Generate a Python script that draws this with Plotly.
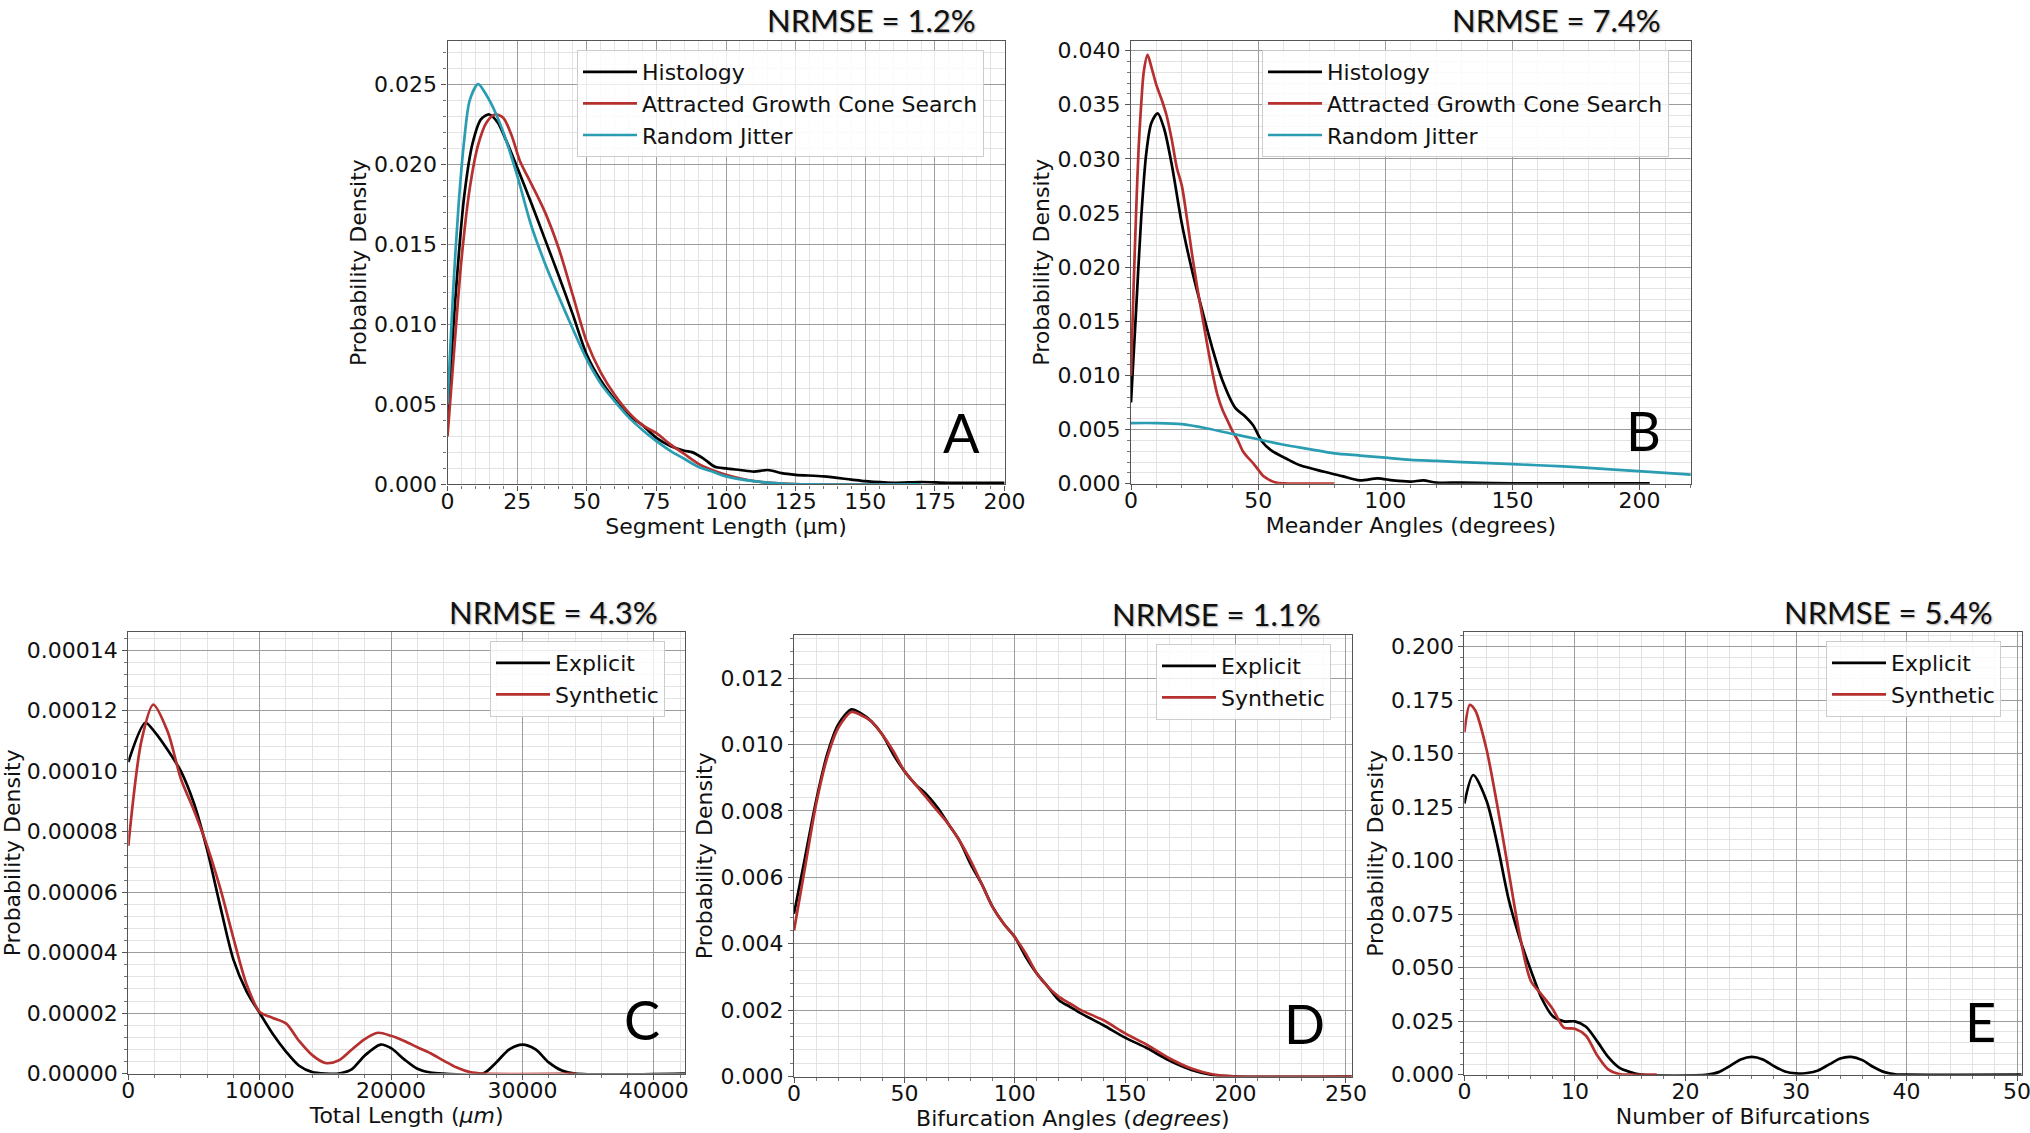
import plotly.graph_objects as go

# ---------------- Data ----------------
# Panel A: Segment Length
a_hist_x = [0, 3, 6, 9, 12, 15, 18, 21, 25, 30, 35, 40, 45, 50, 55, 60, 65, 70, 75, 80, 85, 88, 92, 96, 100, 105, 110, 115, 120, 125, 135, 145, 150, 160, 170, 180, 200]
a_hist_y = [0.0040, 0.0120, 0.0180, 0.0213, 0.0228, 0.0231, 0.0226, 0.0215, 0.0198, 0.0176, 0.0153, 0.0130, 0.0106, 0.0081, 0.0065, 0.0053, 0.0043, 0.0037, 0.0029, 0.0024, 0.0021, 0.0020, 0.0016, 0.0011, 0.0010, 0.0009, 0.0008, 0.0009, 0.0007, 0.0006, 0.0005, 0.0003, 0.0002, 0.0001, 0.00015, 0.0001, 0.0001]
a_agcs_x = [0, 2, 5, 8, 11, 14, 17, 20, 23, 26, 30, 35, 40, 45, 50, 55, 60, 65, 70, 75, 80, 85, 90, 95, 100, 110, 120, 130, 170]
a_agcs_y = [0.0030, 0.0075, 0.0140, 0.0185, 0.0212, 0.0226, 0.0231, 0.0229, 0.0218, 0.0202, 0.0188, 0.0170, 0.0147, 0.0118, 0.0089, 0.0070, 0.0056, 0.0045, 0.0037, 0.0032, 0.0025, 0.0019, 0.0013, 0.0009, 0.0006, 0.0002, 0.00005, 0.0, 0.0]
a_jit_x = [0, 2, 4, 6, 8, 11, 14, 17, 20, 25, 30, 35, 40, 45, 50, 55, 60, 65, 70, 75, 80, 85, 90, 95, 100, 110, 120, 130, 170]
a_jit_y = [0.0050, 0.0120, 0.0175, 0.0215, 0.0240, 0.0250, 0.0243, 0.0233, 0.0220, 0.0193, 0.0162, 0.0138, 0.0117, 0.0097, 0.0078, 0.0063, 0.0052, 0.0042, 0.0034, 0.0027, 0.0021, 0.0016, 0.0011, 0.0008, 0.0005, 0.0002, 0.00005, 0.0, 0.0]

# Panel B: Meander Angles
b_hist_x = [0, 2, 4, 6, 8, 10.5, 13, 16, 20, 24, 28, 32, 36, 41, 44.5, 48, 51.5, 55, 62, 66.5, 76, 83, 90, 97, 103, 110, 115, 120, 130, 150, 204]
b_hist_y = [0.0075, 0.0160, 0.0245, 0.0305, 0.0333, 0.0342, 0.0328, 0.0295, 0.0240, 0.0197, 0.0160, 0.0125, 0.0095, 0.0070, 0.0063, 0.0054, 0.0039, 0.0031, 0.0022, 0.0017, 0.0011, 0.0007, 0.0003, 0.0005, 0.0003, 0.0002, 0.0003, 0.0001, 0.0001, 0.00003, 0.00003]
b_agcs_x = [0, 1, 2, 3, 4, 5, 6.5, 8, 10, 12, 14, 16, 18, 20, 22, 24, 26, 28, 30, 32, 34, 36, 38, 40, 42, 44, 46, 48, 50, 52, 54, 57, 60, 80]
b_agcs_y = [0.0100, 0.0180, 0.0250, 0.0310, 0.0350, 0.0380, 0.0396, 0.0385, 0.0368, 0.0355, 0.0340, 0.0318, 0.0292, 0.0275, 0.0245, 0.0212, 0.0182, 0.0155, 0.0128, 0.0103, 0.0082, 0.0068, 0.0058, 0.0048, 0.0040, 0.0030, 0.0024, 0.0019, 0.0013, 0.0007, 0.0004, 0.0001, 0.00003, 0.0]
b_jit_x = [0, 10, 20, 30, 40, 50, 60, 70, 80, 90, 100, 110, 120, 130, 150, 170, 190, 210, 222]
b_jit_y = [0.0056, 0.0056, 0.0055, 0.0051, 0.0046, 0.0041, 0.0036, 0.0032, 0.0028, 0.0026, 0.0024, 0.0022, 0.0021, 0.0020, 0.0018, 0.0016, 0.0013, 0.0010, 0.0008]

# Panel C: Total Length
c_exp_x = [0, 1300, 2000, 3000, 4000, 5000, 6000, 7000, 8000, 9000, 10000, 11000, 12000, 13000, 14000, 15000, 16000, 17000, 18000, 19200, 20000, 21000, 22000, 23000, 24000, 27000, 28000, 29000, 30000, 31000, 32000, 33000, 34000, 42400]
c_exp_y = [0.000103, 0.000116, 0.000113, 0.000107, 0.000100, 0.0000893, 0.000074, 0.0000553, 0.0000377, 0.0000272, 0.0000200, 0.0000131, 0.0000073, 0.0000026, 0.0000005, 0.0, 0.0, 0.0000014, 0.0000060, 0.0000096, 0.0000084, 0.0000047, 0.0000016, 0.0000003, 0.0, 0.0, 0.0000037, 0.0000080, 0.0000096, 0.0000080, 0.0000037, 0.0000010, 0.0, 0.0]
c_syn_x = [0, 1000, 1900, 3000, 4000, 5000, 6000, 7000, 8000, 9000, 10000, 11000, 12000, 13000, 14000, 15000, 16000, 17000, 18000, 19000, 20000, 21000, 22000, 23000, 24000, 25000, 26000, 27000, 34000]
c_syn_y = [0.0000753, 0.000110, 0.000122, 0.000113, 0.0000975, 0.0000870, 0.0000753, 0.0000612, 0.0000448, 0.0000295, 0.0000204, 0.0000184, 0.0000166, 0.0000108, 0.0000061, 0.0000035, 0.0000043, 0.0000079, 0.0000114, 0.0000135, 0.0000125, 0.0000108, 0.0000087, 0.0000067, 0.0000043, 0.0000020, 0.0000005, 0.0, 0.0]

# Panel D: Bifurcation Angles
d_x = [0, 5, 10, 15, 20, 26, 30, 35, 40, 45, 50, 55, 60, 65, 70, 75, 80, 85, 90, 95, 100, 105, 110, 115, 120, 125, 130, 140, 150, 160, 170, 180, 190, 200, 253]
d_exp_y = [0.0049, 0.0066, 0.0083, 0.0097, 0.0106, 0.01106, 0.01095, 0.0107, 0.0103, 0.0097, 0.0092, 0.0088, 0.0085, 0.0081, 0.0076, 0.0071, 0.0064, 0.0058, 0.0051, 0.0046, 0.0042, 0.0036, 0.0031, 0.0027, 0.0023, 0.0021, 0.0019, 0.00155, 0.00117, 0.00085, 0.00048, 0.0002, 0.00004, 0.0, 0.0]
d_syn_y = [0.0044, 0.0063, 0.0082, 0.0096, 0.0105, 0.01098, 0.0109, 0.0107, 0.0103, 0.0098, 0.0092, 0.0088, 0.0084, 0.0080, 0.0076, 0.0071, 0.0065, 0.0058, 0.0051, 0.0046, 0.0042, 0.0037, 0.0031, 0.0027, 0.0024, 0.0022, 0.0020, 0.0017, 0.0013, 0.00095, 0.00055, 0.00024, 0.00006, 0.0, 0.0]

# Panel E: Number of Bifurcations
e_exp_x = [0, 0.8, 2, 3, 4, 5, 6, 7, 8, 9, 10, 11, 12, 13, 14, 15, 16, 22, 23, 24, 25, 26, 27, 28, 29, 30, 31, 32, 33, 34, 35, 36, 37, 38, 39, 40, 50.5]
e_exp_y = [0.1267, 0.140, 0.128, 0.107, 0.082, 0.0638, 0.0489, 0.0356, 0.0273, 0.0249, 0.0249, 0.0224, 0.0157, 0.0083, 0.0033, 0.0012, 0.0, 0.0, 0.0012, 0.0040, 0.0071, 0.0083, 0.0071, 0.0040, 0.0015, 0.0006, 0.0008, 0.0020, 0.0048, 0.0076, 0.0083, 0.0068, 0.0036, 0.0012, 0.0002, 0.0, 0.0]
e_syn_x = [0, 0.5, 1, 2, 3, 4, 5, 6, 7, 8, 9, 10, 11, 12, 13, 14, 15, 17.4]
e_syn_y = [0.160, 0.1728, 0.170, 0.152, 0.125, 0.095, 0.0654, 0.0439, 0.0373, 0.0306, 0.0220, 0.0215, 0.0182, 0.0091, 0.0025, 0.0003, 0.0, 0.0]

# Text
titles = ["NRMSE = 1.2%", "NRMSE = 7.4%", "NRMSE = 4.3%", "NRMSE = 1.1%", "NRMSE = 5.4%"]
letters = ["A", "B", "C", "D", "E"]
x_titles = ["Segment Length (µm)", "Meander Angles (degrees)", "Total Length (<i>μm</i>)",
            "Bifurcation Angles (<i>degrees</i>)", "Number of Bifurcations"]
y_title = "Probability Density"

# ---------------- Styling ----------------
W, H = 2030, 1133
BLACK = "#000000"
RED = "#b5302e"
CYAN = "#2a9db3"
FS = 22
TICKFONT = dict(family="DejaVu Sans", size=FS, color="#111111")
LW = 2.7


def px_x(p):
    return p / W


def px_y(p):
    return 1 - p / H


# plot-area pixel boxes (left, right, top, bottom)
boxes = [
    (447.5, 1004.6, 40.8, 484.4),
    (1131.0, 1690.7, 40.8, 483.7),
    (128.3, 685.0, 632.0, 1073.6),
    (794.0, 1351.7, 635.0, 1076.5),
    (1464.4, 2021.5, 632.0, 1074.7),
]

x_ranges = [[0, 200], [0, 220.1], [0, 42370], [0, 252.6], [0, 50.4]]
y_ranges = [[0, 0.0277], [0, 0.0409], [0, 0.000146], [0, 0.0133], [0, 0.2068]]
x_dticks = [25, 50, 10000, 50, 10]
x_minor = [5, 10, 2000, 10, 2]
x_formats = ["d", "d", "d", "d", "d"]
y_dticks = [0.005, 0.005, 0.00002, 0.002, 0.025]
y_minor = [0.001, 0.001, 0.000004, 0.0004, 0.005]
y_formats = [".3f", ".3f", ".5f", ".3f", ".3f"]

fig = go.Figure()


def add_line(x, y, name, color, idx):
    sfx = "" if idx == 0 else str(idx + 1)
    fig.add_trace(go.Scatter(
        x=x, y=y, name=name, mode="lines",
        line=dict(color=color, width=LW, shape="spline", smoothing=0.8),
        xaxis="x" + sfx, yaxis="y" + sfx, legend="legend" + sfx,
        legendgroup=name + sfx, hoverinfo="skip",
    ))


add_line(a_hist_x, a_hist_y, "Histology", BLACK, 0)
add_line(a_agcs_x, a_agcs_y, "Attracted Growth Cone Search", RED, 0)
add_line(a_jit_x, a_jit_y, "Random Jitter", CYAN, 0)
add_line(b_hist_x, b_hist_y, "Histology", BLACK, 1)
add_line(b_agcs_x, b_agcs_y, "Attracted Growth Cone Search", RED, 1)
add_line(b_jit_x, b_jit_y, "Random Jitter", CYAN, 1)
add_line(c_exp_x, c_exp_y, "Explicit", BLACK, 2)
add_line(c_syn_x, c_syn_y, "Synthetic", RED, 2)
add_line(d_x, d_exp_y, "Explicit", BLACK, 3)
add_line(d_x, d_syn_y, "Synthetic", RED, 3)
add_line(e_exp_x, e_exp_y, "Explicit", BLACK, 4)
add_line(e_syn_x, e_syn_y, "Synthetic", RED, 4)

layout = dict(
    width=W, height=H,
    margin=dict(l=0, r=0, t=0, b=0, autoexpand=False),
    paper_bgcolor="white", plot_bgcolor="white",
    font=dict(family="DejaVu Sans", size=FS, color="#111111"),
    showlegend=True,
)

legend_pos = [(577, 50), (1262, 50), (490, 641), (1156, 644), (1826, 641)]
letter_pos = [(184.6, 0.00324), (201.6, 0.00489), (39070, 0.0000178), (231, 0.0016), (46.7, 0.0249)]
title_pos = [(977, 0), (1661.5, 0), (659, 592), (1321.6, 594), (1993.6, 592)]

annotations = []
for i in range(5):
    sfx = "" if i == 0 else str(i + 1)
    l, r, t, b = boxes[i]
    common = dict(
        showgrid=True, gridcolor="#9c9c9c", gridwidth=1.2,
        ticks="outside", ticklen=5, tickwidth=1.2, tickcolor="#555555",
        showline=True, linecolor="#555555", linewidth=1.2, mirror=True,
        zeroline=False, tickfont=TICKFONT, tick0=0, automargin=False,
        ticklabeloverflow="allow",
    )
    layout["xaxis" + sfx] = dict(
        common, domain=[px_x(l), px_x(r)], range=x_ranges[i], dtick=x_dticks[i],
        tickformat=x_formats[i], anchor="y" + sfx, ticklabelstandoff=-8,
        minor=dict(dtick=x_minor[i], tick0=0, showgrid=True, gridcolor="#e3e3e3", gridwidth=1,
                   ticks="outside", ticklen=3, tickcolor="#777777"),
        title=dict(text=x_titles[i], font=dict(family="DejaVu Sans", size=FS, color="#111111"), standoff=4),
    )
    layout["yaxis" + sfx] = dict(
        common, domain=[px_y(b), px_y(t)], range=y_ranges[i], dtick=y_dticks[i],
        tickformat=y_formats[i], anchor="x" + sfx,
        minor=dict(dtick=y_minor[i], tick0=0, showgrid=True, gridcolor="#e3e3e3", gridwidth=1,
                   ticks="outside", ticklen=3, tickcolor="#777777"),
        title=dict(text=y_title, font=dict(family="DejaVu Sans", size=FS, color="#111111"), standoff=1),
    )
    lx, ly = legend_pos[i]
    layout["legend" + sfx] = dict(
        x=px_x(lx), y=px_y(ly), xanchor="left", yanchor="top",
        xref="paper", yref="paper",
        bgcolor="rgba(255,255,255,0.8)", bordercolor="#cccccc", borderwidth=1,
        font=dict(family="DejaVu Sans", size=FS, color="#111111"),
        itemwidth=54, traceorder="grouped", tracegroupgap=0,
    )
    # panel letter
    annotations.append(dict(
        text=letters[i], x=letter_pos[i][0], y=letter_pos[i][1],
        xref="x" + sfx, yref="y" + sfx, showarrow=False,
        xanchor="center", yanchor="middle",
        font=dict(family="Lato", size=54, color="#000000"),
    ))
    # NRMSE title
    tx, ty = title_pos[i]
    annotations.append(dict(
        text=titles[i], x=px_x(tx), y=px_y(ty), xref="paper", yref="paper",
        showarrow=False, xanchor="right", yanchor="top", borderpad=0,
        font=dict(family="Lato", size=31, color="#111111", shadow="1px 1px 2px #aaaaaa"),
    ))

layout["annotations"] = annotations
fig.update_layout(**layout)
fig.write_html(
    "out.html",
    config={"displayModeBar": False},
    post_script="document.body.style.margin='0';document.body.style.padding='0';document.body.style.overflow='hidden';",
)
